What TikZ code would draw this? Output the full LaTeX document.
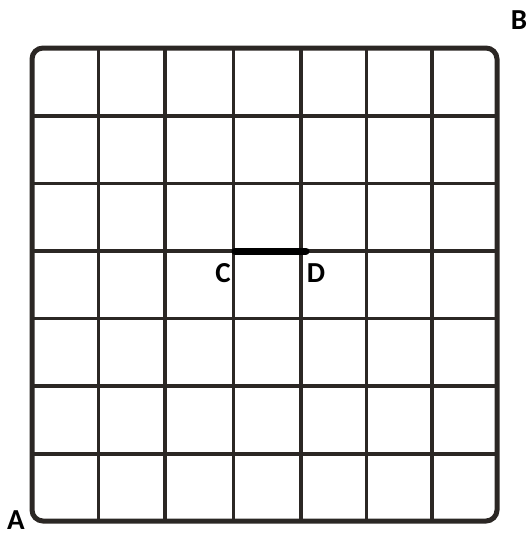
\documentclass[tikz,border=0pt]{standalone}
\usepackage{fontspec}
\setmainfont{Carlito}
\definecolor{wire}{HTML}{2B2724}
\tikzset{
  gridwire/.style={draw=wire, line width=3.2pt},
  framewire/.style={draw=wire, line width=5pt, rounded corners=11pt},
  seg/.style={draw=black, line width=7pt, line cap=round},
  lbl/.style={font=\fontsize{29}{32}\selectfont\bfseries, text=black, inner sep=0pt}
}
\begin{document}
\begin{tikzpicture}[x=1pt,y=-1pt]
\useasboundingbox (0,0) rectangle (531,536);
% vertical interior wires
\foreach \x in {98.5,165,233.5,301,366.5,432}
  \draw[gridwire] (\x,48) -- (\x,521);
% horizontal interior wires
\foreach \y in {116,183.5,251,318.5,386,454}
  \draw[gridwire] (32,\y) -- (497,\y);
% frame
\draw[framewire] (32,48) rectangle (497,521);
% segment CD
\coordinate (c) at (235,251);
\coordinate (d) at (306,251);
\draw[seg] (c) -- (d);
% labels
\node[lbl] (A) at (16,520) {A};
\node[lbl] (B) at (519,20) {B};
\node[lbl] (C) at (223,273) {C};
\node[lbl] (D) at (316,273) {D};
\end{tikzpicture}
\end{document}
